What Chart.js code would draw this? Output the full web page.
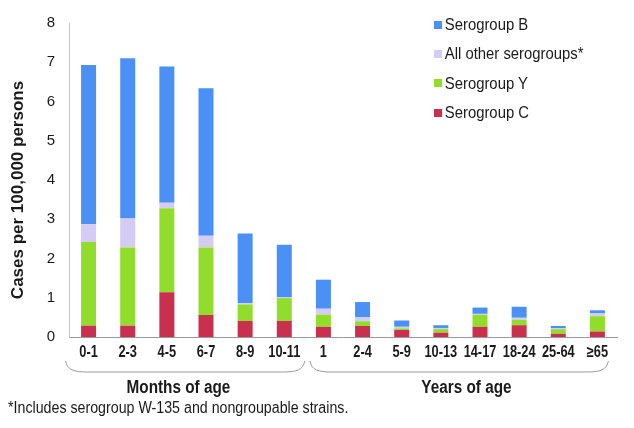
<!DOCTYPE html>
<html>
<head>
<meta charset="utf-8">
<script src="https://cdn.jsdelivr.net/npm/chart.js@4.4.0/dist/chart.umd.min.js"></script>
<style>
  html, body { margin: 0; padding: 0; background: #fff; }
  #wrap { position: relative; width: 634px; height: 428px; }
  #legend { position: absolute; left: 434px; top: 10px; font: 16.5px "Liberation Sans", Arial, sans-serif; color: #1a1a1a; transform: scaleX(0.9); transform-origin: 0 0; }
  .item { height: 29.3px; line-height: 29.3px; display: flex; align-items: center; white-space: nowrap; }
  .box { width: 9px; height: 8px; margin-right: 3px; }
  #note { position: absolute; left: 8px; top: 399px; font: 15.8px "Liberation Sans", Arial, sans-serif; color: #1a1a1a; white-space: nowrap; transform: scaleX(0.9); transform-origin: 0 0; }
</style>
</head>
<body>
<div id="wrap">
  <canvas id="grafico" width="634" height="428"></canvas>
  <div id="legend"></div>
  <div id="note"></div>
</div>
<script>
// categorias (faixas etárias)
const categories = ["0-1", "2-3", "4-5", "6-7", "8-9", "10-11", "1", "2-4", "5-9", "10-13", "14-17", "18-24", "25-64", "≥65"];

// valores de cada sorogrupo (casos por 100.000)
const serogroupC = [0.29, 0.29, 1.14, 0.56, 0.41, 0.41, 0.26, 0.28, 0.18, 0.11, 0.26, 0.30, 0.08, 0.14];
const serogroupY = [2.13, 1.99, 2.14, 1.72, 0.42, 0.58, 0.31, 0.12, 0.04, 0.09, 0.30, 0.14, 0.12, 0.39];
const otherGroups = [0.45, 0.74, 0.14, 0.30, 0.03, 0.02, 0.15, 0.10, 0.04, 0.03, 0.03, 0.05, 0.02, 0.07];
const serogroupB = [4.06, 4.08, 3.47, 3.76, 1.78, 1.34, 0.74, 0.39, 0.16, 0.07, 0.16, 0.28, 0.06, 0.08];

const seriesNames = ["Serogroup C", "Serogroup Y", "All other serogroups*", "Serogroup B"];
const seriesColors = ["#c8304e", "#90dd2c", "#d4ccf5", "#4a90f5"];

// eixo y: 0 a 8
const yMin = 0;
const yMax = 8;
const yStep = 1;

const yTitle = "Cases per 100,000 persons";
const groupLabels = ["Months of age", "Years of age"];
const groupSize = 6; // primeiras 6 categorias são meses
const footnote = "*Includes serogroup W-135 and nongroupable strains.";

const seriesData = [serogroupC, serogroupY, otherGroups, serogroupB];

const datasets = seriesNames.map((name, i) => ({
  label: name,
  data: seriesData[i],
  backgroundColor: seriesColors[i],
  borderWidth: 0,
  barPercentage: 0.383,
  categoryPercentage: 1
}));

// legenda em HTML (ordem invertida, como no original)
const legend = document.getElementById("legend");
for (let i = seriesNames.length - 1; i >= 0; i--) {
  const item = document.createElement("div");
  item.className = "item";
  const box = document.createElement("span");
  box.className = "box";
  box.style.background = seriesColors[i];
  const txt = document.createElement("span");
  txt.textContent = seriesNames[i];
  item.appendChild(box);
  item.appendChild(txt);
  legend.appendChild(item);
}
document.getElementById("note").textContent = footnote;

// texto estreito (fonte comprimida na horizontal)
function narrowText(ctx, text, x, y, sx) {
  ctx.save();
  ctx.translate(x, y);
  ctx.scale(sx, 1);
  ctx.fillText(text, 0, 0);
  ctx.restore();
}

// desenha título do eixo y, rótulos x, chaves e rótulos dos grupos
const extras = {
  id: "extras",
  afterDraw(chart) {
    const ctx = chart.ctx;
    const x = chart.scales.x;
    ctx.save();

    // título do eixo y
    ctx.translate(18, 190);
    ctx.rotate(-Math.PI / 2);
    ctx.font = "bold 17px 'Liberation Sans', Arial, sans-serif";
    ctx.fillStyle = "#1a1a1a";
    ctx.textAlign = "center";
    ctx.textBaseline = "middle";
    ctx.fillText(yTitle, 0, 0);
    ctx.restore();

    // rótulos das categorias
    ctx.save();
    ctx.font = "bold 16px 'Liberation Sans', Arial, sans-serif";
    ctx.fillStyle = "#1a1a1a";
    ctx.textAlign = "center";
    ctx.textBaseline = "middle";
    categories.forEach((c, i) => narrowText(ctx, c, x.getPixelForTick(i), 353, 0.8));
    ctx.restore();

    const first = x.getPixelForTick(0);
    const lastM = x.getPixelForTick(groupSize - 1);
    const firstY = x.getPixelForTick(groupSize);
    const last = x.getPixelForTick(categories.length - 1);
    const mid = (lastM + firstY) / 2;

    const brackets = [
      [first - 23, mid + 1],
      [mid + 6, last + 11]
    ];
    const top = 361, bot = 372;
    ctx.save();
    ctx.strokeStyle = "#9a9a9a";
    ctx.lineWidth = 1;
    brackets.forEach(([a, b]) => {
      ctx.beginPath();
      ctx.moveTo(a, top);
      ctx.bezierCurveTo(a + 2, bot - 2, a + 8, bot, a + 22, bot);
      ctx.lineTo(b - 22, bot);
      ctx.bezierCurveTo(b - 8, bot, b - 2, bot - 2, b, top);
      ctx.stroke();
    });

    ctx.font = "bold 18px 'Liberation Sans', Arial, sans-serif";
    ctx.fillStyle = "#1a1a1a";
    ctx.textAlign = "center";
    ctx.textBaseline = "middle";
    narrowText(ctx, groupLabels[0], (first + lastM) / 2 - 8, 388, 0.85);
    narrowText(ctx, groupLabels[1], (firstY + last) / 2 + 6, 388, 0.85);
    ctx.restore();
  }
};

const canvas = document.getElementById("grafico");
const grafico = new Chart(canvas, {
  type: "bar",
  data: { labels: categories, datasets: datasets },
  options: {
    responsive: false,
    animation: false,
    layout: { padding: { left: 0, right: 17, top: 20, bottom: 0 } },
    plugins: { legend: { display: false }, tooltip: { enabled: false } },
    scales: {
      x: {
        stacked: true,
        grid: { display: false, drawTicks: false },
        border: { display: true, color: "#9a9a9a", width: 1 },
        ticks: { display: false, autoSkip: false },
        afterFit(scale) { scale.height = 91; }
      },
      y: {
        stacked: true,
        min: yMin,
        max: yMax,
        grid: { display: false, drawTicks: false },
        border: { display: true, color: "#c4c4c4", width: 1 },
        ticks: {
          stepSize: yStep,
          padding: 14,
          color: "#1a1a1a",
          font: { family: "'Liberation Sans', Arial, sans-serif", size: 15 }
        },
        afterFit(scale) { scale.width = 69; }
      }
    }
  },
  plugins: [extras]
});
</script>
</body>
</html>
